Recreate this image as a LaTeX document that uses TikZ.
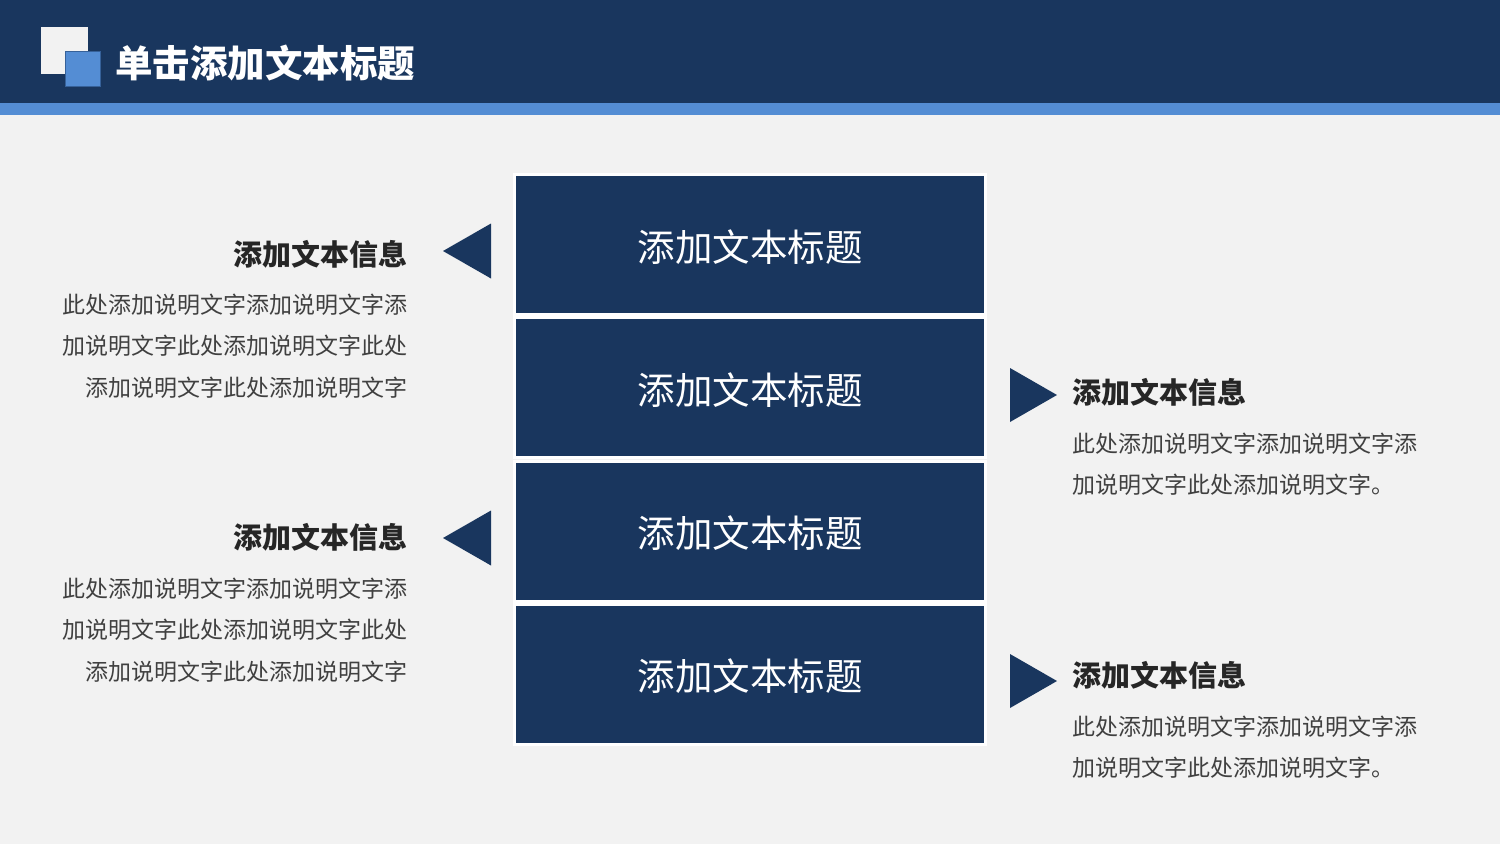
\documentclass[tikz,border=0pt]{standalone}
\usepackage{fontspec}
\newfontfamily\cjk{Noto Sans CJK SC}
\usetikzlibrary{positioning}
\definecolor{navy}{RGB}{25,54,94}
\definecolor{lightblue}{RGB}{84,141,212}
\definecolor{paper}{RGB}{242,242,242}
\definecolor{headgray}{RGB}{38,38,38}
\definecolor{bodygray}{RGB}{64,64,64}
\tikzset{
  titlebox/.style={draw=white, line width=3pt, fill=navy, minimum width=471pt, minimum height=140pt,
    inner sep=0pt, outer sep=0pt, text height=36pt, text depth=3pt, text=white,
    font=\cjk\fontsize{37.5}{45}\selectfont},
  infohead/.style={inner sep=0pt, text=headgray, font=\cjk\bfseries\fontsize{29}{35}\selectfont},
  infobody/.style={inner sep=0pt, text=bodygray, font=\cjk\fontsize{23}{41.5}\selectfont},
  pointer/.style={fill=navy},
}
\begin{document}
\begin{tikzpicture}[x=1pt,y=-1pt]
\fill[paper] (0,0) rectangle (1500,844);
\useasboundingbox (0,0) rectangle (1500,844);
% header
\fill[navy] (0,0) rectangle (1500,103);
\fill[lightblue] (0,103) rectangle (1500,115);
\fill[paper] (41,27) rectangle (88,74);
\filldraw[fill=lightblue, draw=navy!50!lightblue, line width=0.8pt] (65,51) rectangle (100,86);
\node[anchor=west, inner sep=0pt, text=white, font=\cjk\bfseries\fontsize{37.5}{45}\selectfont] (title) at (115,63) {单击添加文本标题};
% stacked boxes
\foreach \i in {1,...,4}
  \node[titlebox] (box\i) at (750,{244.5+143.3*(\i-1)}) {添加文本标题};
% pointers
\coordinate (tipA) at (443,251);
\coordinate (tipB) at (443,538);
\coordinate (tipC) at (1057,395);
\coordinate (tipD) at (1057,681);
\fill[pointer] (tipA) -- ++(48,-27.5) -- ++(0,55) -- cycle;
\fill[pointer] (tipB) -- ++(48,-27.5) -- ++(0,55) -- cycle;
\fill[pointer] (tipC) -- ++(-47,-27) -- ++(0,54) -- cycle;
\fill[pointer] (tipD) -- ++(-47,-27) -- ++(0,54) -- cycle;
% left texts
\node[infohead, anchor=east] (headA) at (408,254) {添加文本信息};
\node[infobody, anchor=north east, align=right] (bodyA) at (408,293.5)
  {此处添加说明文字添加说明文字添\\加说明文字此处添加说明文字此处\\添加说明文字此处添加说明文字};
\node[infohead, anchor=east] (headB) at (408,537) {添加文本信息};
\node[infobody, anchor=north east, align=right] (bodyB) at (408,577.5)
  {此处添加说明文字添加说明文字添\\加说明文字此处添加说明文字此处\\添加说明文字此处添加说明文字};
% right texts
\node[infohead, anchor=west] (headC) at (1072,392) {添加文本信息};
\node[infobody, anchor=north west, align=left] (bodyC) at (1072,432.5)
  {此处添加说明文字添加说明文字添\\加说明文字此处添加说明文字。};
\node[infohead, anchor=west] (headD) at (1072,675) {添加文本信息};
\node[infobody, anchor=north west, align=left] (bodyD) at (1072,715.5)
  {此处添加说明文字添加说明文字添\\加说明文字此处添加说明文字。};
\end{tikzpicture}
\end{document}
